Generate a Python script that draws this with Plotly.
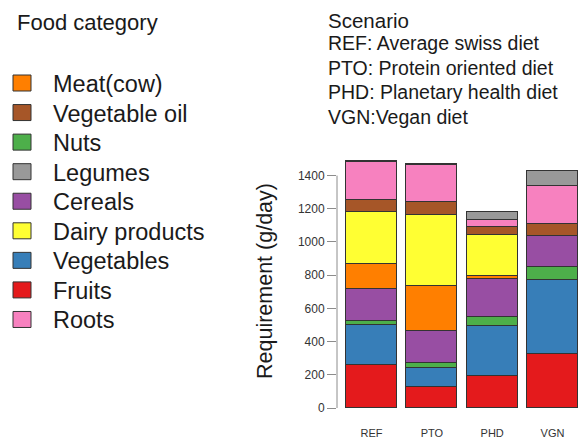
import plotly.graph_objects as go

scenarios = ["REF", "PTO", "PHD", "VGN"]
# stacking order bottom -> top
stack_order = ["Fruits", "Vegetables", "Nuts", "Cereals", "Meat(cow)",
               "Dairy products", "Vegetable oil", "Roots", "Legumes"]
fruits = [260, 124, 195, 327]
vegetables = [237, 117, 296, 445]
nuts = [25, 30, 55, 77]
cereals = [194, 190, 230, 188]
meat = [153, 271, 20, 0]
dairy = [309, 429, 247, 0]
veg_oil = [72, 77, 46, 72]
roots = [230, 228, 44, 231]
legumes = [8, 6, 50, 88]
values = {"Fruits": fruits, "Vegetables": vegetables, "Nuts": nuts,
          "Cereals": cereals, "Meat(cow)": meat, "Dairy products": dairy,
          "Vegetable oil": veg_oil, "Roots": roots, "Legumes": legumes}
colors = {"Meat(cow)": "#FF7F00", "Vegetable oil": "#A65628", "Nuts": "#4DAF4A",
          "Legumes": "#999999", "Cereals": "#984EA3", "Dairy products": "#FFFF33",
          "Vegetables": "#377EB8", "Fruits": "#E41A1C", "Roots": "#F781BF"}
legend_order = ["Meat(cow)", "Vegetable oil", "Nuts", "Legumes", "Cereals",
                "Dairy products", "Vegetables", "Fruits", "Roots"]
y_ticks = [0, 200, 400, 600, 800, 1000, 1200, 1400]
scenario_lines = ["REF: Average swiss diet", "PTO: Protein oriented diet",
                  "PHD: Planetary health diet", "VGN:Vegan diet"]

W, H = 578, 441
ML, MR, MT, MB = 337, 0, 154, 33
PW, PH = W - ML - MR, H - MT - MB

fig = go.Figure()
for cat in stack_order:
    fig.add_trace(go.Bar(
        x=list(range(len(scenarios))), y=values[cat], name=cat,
        marker=dict(color=colors[cat], line=dict(color="#333333", width=1)),
        width=0.845, showlegend=False))

def px_x(p):
    return (p - ML) / PW

def px_y(p):
    return (H - MB - p) / PH

shapes = [dict(type="line", xref="paper", yref="y", x0=0, x1=0, y0=0, y1=1400,
               line=dict(color="#8c8c8c", width=1))]
annotations = []

# manual legend
annotations.append(dict(text="Food category", xref="paper", yref="paper",
                        x=px_x(15), y=px_y(22), xanchor="left", yanchor="middle",
                        showarrow=False, font=dict(size=22, color="#1a1a1a")))
for i, cat in enumerate(legend_order):
    cy = 83 + i * 29.56
    shapes.append(dict(type="rect", xref="paper", yref="paper",
                       x0=px_x(13), x1=px_x(31), y0=px_y(cy - 8), y1=px_y(cy + 8),
                       fillcolor=colors[cat], line=dict(color="#333333", width=1)))
    annotations.append(dict(text=cat, xref="paper", yref="paper",
                            x=px_x(51), y=px_y(cy + 1), xanchor="left", yanchor="middle",
                            showarrow=False, font=dict(size=23.5, color="#1a1a1a")))

# scenario text
annotations.append(dict(text="Scenario", xref="paper", yref="paper",
                        x=px_x(326), y=px_y(20), xanchor="left", yanchor="middle",
                        showarrow=False, font=dict(size=20.5, color="#1a1a1a")))
for i, line in enumerate(scenario_lines):
    annotations.append(dict(text=line, xref="paper", yref="paper",
                            x=px_x(326), y=px_y(43 + i * 24.6), xanchor="left",
                            yanchor="middle", showarrow=False,
                            font=dict(size=19.5, color="#1a1a1a")))

# y-axis title
annotations.append(dict(text="Requirement (g/day)", xref="paper", yref="paper",
                        x=px_x(265), y=px_y(281), xanchor="center", yanchor="middle",
                        textangle=-90, showarrow=False,
                        font=dict(size=21.5, color="#1a1a1a")))

fig.update_layout(
    width=W, height=H, margin=dict(l=ML, r=MR, t=MT, b=MB),
    paper_bgcolor="white", plot_bgcolor="white",
    barmode="stack", bargap=0,
    font=dict(family="Liberation Sans, Arial, sans-serif"),
    shapes=shapes, annotations=annotations,
    xaxis=dict(range=[-0.572, 3.423], tickmode="array",
               tickvals=list(range(len(scenarios))), ticktext=scenarios,
               showgrid=False, zeroline=False, showline=False, ticks="",
               ticklabelstandoff=17, tickfont=dict(size=11, color="#333333"),
               automargin=False),
    yaxis=dict(range=[0, 1530], tickmode="array", tickvals=y_ticks,
               showgrid=False, zeroline=False, showline=False,
               ticks="outside", ticklen=9, tickcolor="#8c8c8c", tickwidth=1,
               tickfont=dict(size=12, color="#333333"), automargin=False),
)

fig.write_html("out.html", config={"displayModeBar": False},
               post_script="document.body.style.margin='0px';document.body.style.padding='0px';")
